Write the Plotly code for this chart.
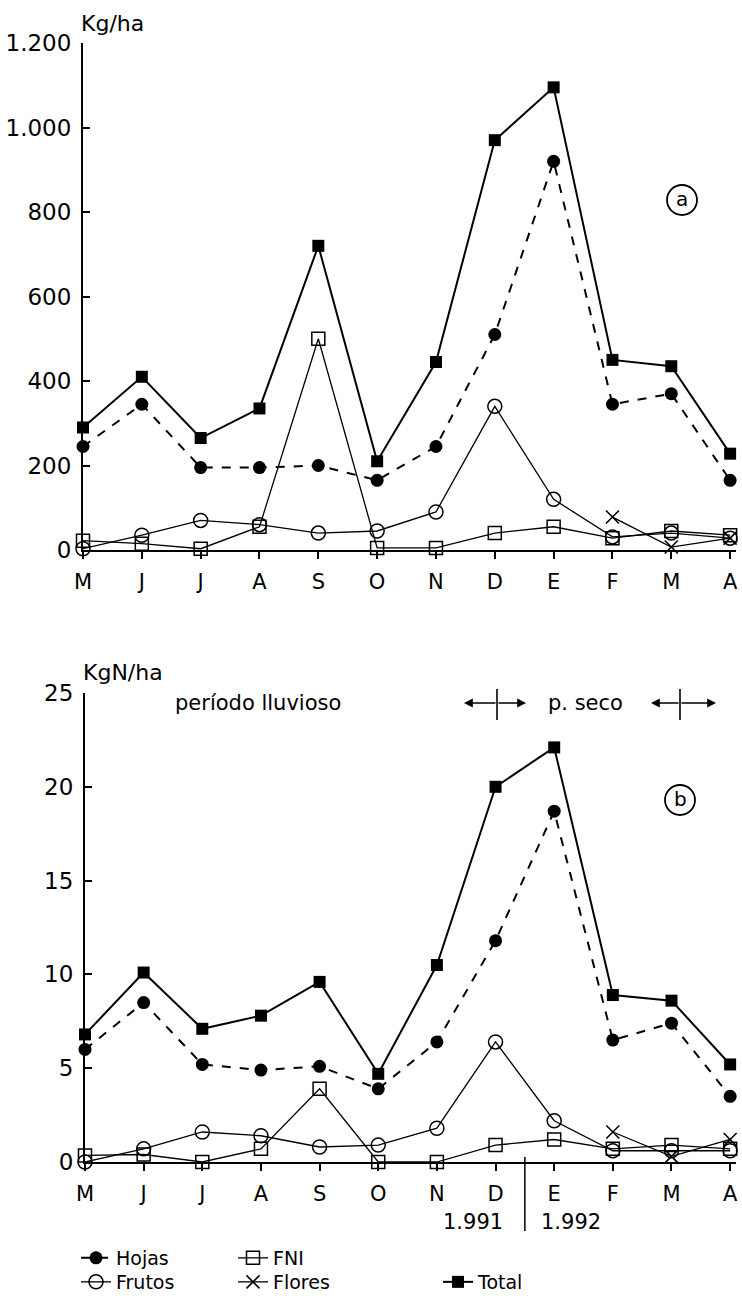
import plotly.graph_objects as go

W, H = 742, 1296

months = ["M", "J", "J", "A", "S", "O", "N", "D", "E", "F", "M", "A"]
x_pos = list(range(len(months)))

# Panel (a) - Kg/ha
hojas_kg = [245, 345, 195, 195, 200, 165, 245, 510, 920, 345, 370, 165]
frutos_kg = [3, 35, 70, 60, 40, 45, 90, 340, 120, 31, 40, 28]
fni_kg = [22, 15, 3, 55, 500, 5, 5, 40, 55, 28, 45, 35]
flores_kg = [None, None, None, None, None, None, None, None, None, 78, 7, 28]
total_kg = [290, 410, 265, 335, 720, 210, 445, 970, 1095, 450, 435, 228]
yticks_a = [0, 200, 400, 600, 800, 1000, 1200]
yticklabels_a = ["0", "200", "400", "600", "800", "1.000", "1.200"]

# Panel (b) - KgN/ha
hojas_n = [6.0, 8.5, 5.2, 4.9, 5.1, 3.9, 6.4, 11.8, 18.7, 6.5, 7.4, 3.5]
frutos_n = [0.0, 0.7, 1.6, 1.4, 0.8, 0.9, 1.8, 6.4, 2.2, 0.6, 0.6, 0.6]
fni_n = [0.35, 0.4, 0.0, 0.7, 3.9, 0.0, 0.0, 0.9, 1.2, 0.7, 0.9, 0.7]
flores_n = [None, None, None, None, None, None, None, None, None, 1.6, 0.3, 1.2]
total_n = [6.8, 10.1, 7.1, 7.8, 9.6, 4.7, 10.5, 20.0, 22.1, 8.9, 8.6, 5.2]
yticks_b = [0, 5, 10, 15, 20, 25]
yticklabels_b = ["0", "5", "10", "15", "20", "25"]

FONT = "DejaVu Sans"


def px(x):
    return x / W


def py(y):
    return (H - y) / H


fig = go.Figure()

series_styles = [
    ("Hojas", dict(color="black", width=2, dash="dash"),
     dict(symbol="circle", size=13, color="black"), "legend"),
    ("FNI", dict(color="black", width=1.3),
     dict(symbol="square-open", size=13, color="black", line=dict(width=1.5)), "legend"),
    ("Frutos", dict(color="black", width=1.3),
     dict(symbol="circle-open", size=14, color="black", line=dict(width=1.5)), "legend2"),
    ("Flores", dict(color="black", width=1.3),
     dict(symbol="x-thin-open", size=13, color="black", line=dict(width=1.6)), "legend2"),
    ("Total", dict(color="black", width=2),
     dict(symbol="square", size=12, color="black"), "legend3"),
]

data_a = {"Hojas": hojas_kg, "FNI": fni_kg, "Frutos": frutos_kg,
          "Flores": flores_kg, "Total": total_kg}
data_b = {"Hojas": hojas_n, "FNI": fni_n, "Frutos": frutos_n,
          "Flores": flores_n, "Total": total_n}

for name, line, marker, leg in series_styles:
    fig.add_trace(go.Scatter(
        x=x_pos, y=data_a[name], name=name, mode="lines+markers",
        line=line, marker=marker, xaxis="x", yaxis="y",
        cliponaxis=False, legend=leg, showlegend=True, connectgaps=False))
for name, line, marker, leg in series_styles:
    fig.add_trace(go.Scatter(
        x=x_pos, y=data_b[name], name=name, mode="lines+markers",
        line=line, marker=marker, xaxis="x2", yaxis="y2",
        cliponaxis=False, showlegend=False, connectgaps=False))

axis_common = dict(showgrid=False, zeroline=False, showline=True,
                   linecolor="black", linewidth=2, color="black")

xa = dict(axis_common, tickvals=x_pos, ticktext=months, ticks="outside",
          ticklen=7, tickwidth=1.5, tickcolor="black",
          tickfont=dict(family=FONT, size=21, color="black"),
          ticklabelstandoff=5)
ya = dict(axis_common, ticks="inside", ticklen=7, tickwidth=1.5,
          tickcolor="black", tickfont=dict(family=FONT, size=23, color="black"),
          ticklabelstandoff=5)

legend_common = dict(orientation="h", xanchor="left", yanchor="middle",
                     font=dict(family=FONT, size=19, color="black"),
                     itemwidth=30, bgcolor="rgba(0,0,0,0)")

fig.update_layout(
    width=W, height=H, autosize=False,
    margin=dict(l=0, r=0, t=0, b=0, autoexpand=False),
    paper_bgcolor="white", plot_bgcolor="white",
    font=dict(family=FONT, color="black"),
    xaxis=dict(xa, domain=[px(83), px(736)], range=[0, 11.1], anchor="y"),
    yaxis=dict(ya, domain=[py(550), py(43)], range=[0, 1200], anchor="x",
               tickvals=yticks_a, ticktext=yticklabels_a),
    xaxis2=dict(xa, domain=[px(85), px(736)], range=[0, 11.1], anchor="y2"),
    yaxis2=dict(ya, domain=[py(1162), py(693)], range=[0, 25], anchor="x2",
                tickvals=yticks_b, ticktext=yticklabels_b),
    legend=dict(legend_common, x=px(76), y=py(1258), entrywidth=112),
    legend2=dict(legend_common, x=px(76), y=py(1282), entrywidth=112),
    legend3=dict(legend_common, x=px(438), y=py(1282)),
)

ann = []
shapes = []


def text_ann(text, x, y, size, xanchor="center"):
    return dict(text=text, x=px(x), y=py(y), xref="paper", yref="paper",
                xanchor=xanchor, yanchor="middle", showarrow=False,
                font=dict(family=FONT, size=size, color="black"))


# axis units
ann.append(text_ann("Kg/ha", 79, 23, 22, "left"))
ann.append(text_ann("KgN/ha", 81, 672, 22, "left"))

# circled panel letters
for letter, cx, cy in [("a", 682, 200), ("b", 680, 800)]:
    shapes.append(dict(type="circle", xref="paper", yref="paper",
                       x0=px(cx - 15), x1=px(cx + 15),
                       y0=py(cy + 15), y1=py(cy - 15),
                       line=dict(color="black", width=1.8)))
    ann.append(text_ann(letter, cx, cy - 1, 20))

# period labels
ann.append(text_ann("período lluvioso", 258, 703, 21))
ann.append(text_ann("p. seco", 585, 703, 21))

for cx, left, right in [(497, 464, 526), (680, 651, 716)]:
    for head in (left, right):
        ann.append(dict(text="", x=px(head), y=py(703), xref="paper",
                        yref="paper", ax=cx - head, ay=0, showarrow=True,
                        arrowhead=2, arrowsize=1.1, arrowwidth=1.6,
                        arrowcolor="black"))
    shapes.append(dict(type="line", xref="paper", yref="paper",
                       x0=px(cx), x1=px(cx), y0=py(689), y1=py(720),
                       line=dict(color="black", width=1.6)))

# year separator
shapes.append(dict(type="line", xref="x2", yref="paper", x0=7.5, x1=7.5,
                   y0=py(1157), y1=py(1231),
                   line=dict(color="black", width=1.5)))
ann.append(text_ann("1.991", 473, 1222, 21))
ann.append(text_ann("1.992", 571, 1222, 21))

fig.update_layout(annotations=ann, shapes=shapes)

fig.write_html(
    "out.html",
    config={"displayModeBar": False},
    post_script="document.body.style.margin='0';"
                "document.body.style.padding='0';"
                "document.body.style.overflow='hidden';",
)
